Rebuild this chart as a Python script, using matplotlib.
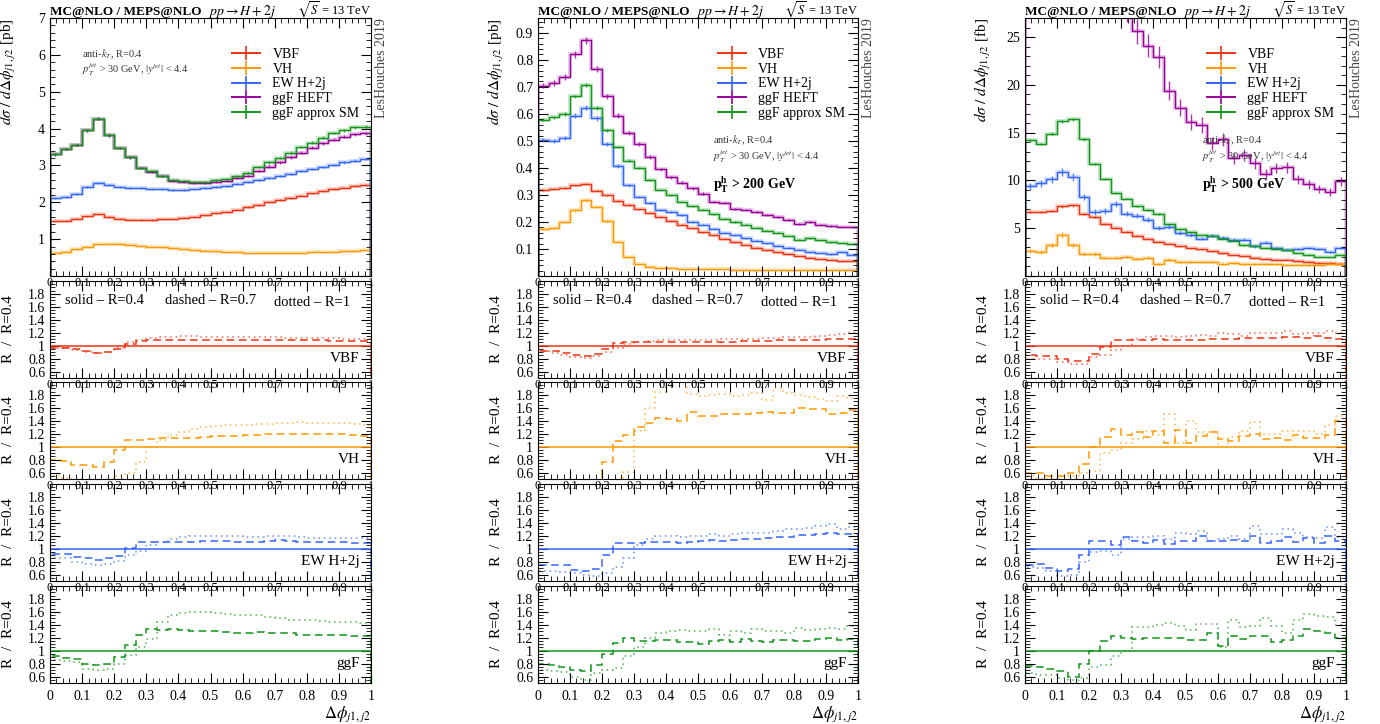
import matplotlib
matplotlib.use("Agg")
import matplotlib.pyplot as plt
from matplotlib.lines import Line2D
from matplotlib.ticker import MultipleLocator, FuncFormatter
import numpy as np

plt.rcParams['font.family'] = ['Liberation Serif', 'DejaVu Serif']
plt.rcParams['mathtext.fontset'] = 'stix'

# 30 bins in delta phi from 0 to 1
edges = np.linspace(0, 1, 31)

names = ['VBF', 'VH', 'EW H+2j', 'ggF HEFT', 'ggF approx SM']
colors = ['#EE3311', '#FF9900', '#3366FF', '#990099', '#109618']

# ---- top panels: dsigma/dDphi ----
# column 1: inclusive [pb]
c1_vbf = [1.48, 1.50, 1.55, 1.62, 1.67, 1.60, 1.56, 1.53, 1.52, 1.52, 1.54, 1.56, 1.58, 1.61, 1.65,
          1.70, 1.75, 1.80, 1.87, 1.93, 2.00, 2.06, 2.12, 2.18, 2.24, 2.30, 2.36, 2.40, 2.44, 2.47]
c1_vh = [0.62, 0.66, 0.72, 0.80, 0.87, 0.88, 0.86, 0.84, 0.82, 0.80, 0.78, 0.76, 0.73, 0.71, 0.69,
         0.67, 0.65, 0.64, 0.63, 0.62, 0.62, 0.62, 0.62, 0.63, 0.64, 0.65, 0.66, 0.67, 0.69, 0.70]
c1_ew = [2.12, 2.15, 2.22, 2.42, 2.52, 2.47, 2.42, 2.38, 2.38, 2.37, 2.35, 2.34, 2.34, 2.35, 2.38,
         2.41, 2.45, 2.50, 2.55, 2.60, 2.65, 2.70, 2.78, 2.85, 2.90, 2.95, 3.02, 3.08, 3.13, 3.18]
c1_heft = [3.30, 3.45, 3.55, 3.95, 4.27, 3.82, 3.47, 3.22, 2.93, 2.83, 2.70, 2.58, 2.54, 2.53, 2.53,
           2.55, 2.57, 2.65, 2.70, 2.85, 2.97, 3.08, 3.22, 3.35, 3.48, 3.60, 3.70, 3.78, 3.85, 3.87]
c1_sm = [3.30, 3.45, 3.55, 3.95, 4.27, 3.82, 3.47, 3.22, 2.93, 2.85, 2.72, 2.60, 2.57, 2.56, 2.56,
         2.60, 2.62, 2.72, 2.80, 2.95, 3.08, 3.20, 3.35, 3.50, 3.62, 3.75, 3.88, 3.95, 4.03, 4.05]

# column 2: pT^h > 200 GeV [pb]
c2_vbf = [0.318, 0.322, 0.327, 0.335, 0.340, 0.316, 0.298, 0.278, 0.263, 0.247, 0.235, 0.220, 0.205, 0.190, 0.177,
          0.162, 0.150, 0.138, 0.125, 0.115, 0.105, 0.095, 0.087, 0.080, 0.073, 0.068, 0.063, 0.060, 0.057, 0.056]
c2_vh = [0.173, 0.178, 0.200, 0.243, 0.280, 0.255, 0.205, 0.127, 0.072, 0.045, 0.035, 0.030, 0.028, 0.027, 0.026,
         0.026, 0.025, 0.025, 0.024, 0.024, 0.023, 0.023, 0.023, 0.022, 0.022, 0.022, 0.022, 0.021, 0.021, 0.021]
c2_ew = [0.505, 0.500, 0.510, 0.593, 0.622, 0.583, 0.490, 0.407, 0.335, 0.292, 0.270, 0.243, 0.238, 0.225, 0.200,
         0.190, 0.175, 0.160, 0.150, 0.140, 0.130, 0.122, 0.112, 0.105, 0.097, 0.088, 0.085, 0.080, 0.087, 0.078]
c2_heft = [0.705, 0.715, 0.735, 0.820, 0.872, 0.765, 0.665, 0.593, 0.528, 0.487, 0.440, 0.395, 0.365, 0.345, 0.325,
           0.305, 0.275, 0.270, 0.248, 0.243, 0.238, 0.227, 0.217, 0.207, 0.193, 0.200, 0.190, 0.185, 0.183, 0.180]
c2_sm = [0.578, 0.588, 0.600, 0.665, 0.708, 0.622, 0.540, 0.478, 0.427, 0.400, 0.355, 0.320, 0.298, 0.275, 0.258,
         0.245, 0.228, 0.212, 0.200, 0.190, 0.178, 0.168, 0.160, 0.148, 0.135, 0.140, 0.132, 0.125, 0.122, 0.120]

# column 3: pT^h > 500 GeV [fb]
c3_vbf = [6.7, 6.7, 6.8, 7.3, 7.4, 6.5, 6.2, 5.4, 5.0, 4.6, 4.2, 3.9, 3.6, 3.4, 3.1,
          2.9, 2.8, 2.6, 2.4, 2.2, 2.1, 1.9, 1.8, 1.7, 1.7, 1.6, 1.5, 1.4, 1.4, 1.3]
c3_vh = [2.6, 2.5, 3.2, 4.3, 3.2, 2.3, 2.3, 1.9, 1.9, 2.0, 1.8, 1.9, 1.3, 1.7, 1.5,
         1.5, 1.5, 1.5, 1.3, 1.4, 1.3, 1.3, 1.3, 1.3, 1.2, 1.2, 1.2, 1.2, 1.3, 1.3]
c3_ew = [9.4, 9.7, 10.1, 10.9, 10.4, 8.3, 6.7, 6.8, 7.5, 6.5, 6.3, 5.9, 5.0, 5.1, 4.5,
         4.3, 3.9, 4.2, 4.0, 3.8, 3.8, 3.1, 3.5, 2.9, 2.7, 2.8, 2.9, 2.8, 2.5, 2.9]
c3_heft = [45.0, 44.0, 43.0, 42.0, 40.0, 38.0, 35.0, 32.0, 30.0, 28.0, 25.6, 24.1, 22.9, 19.4, 17.6,
           16.1, 15.8, 13.9, 14.3, 12.3, 12.7, 11.8, 10.7, 11.3, 11.4, 10.1, 9.6, 9.1, 8.8, 9.9]
c3_sm = [14.2, 13.8, 14.9, 16.2, 16.4, 14.3, 11.7, 10.2, 8.7, 8.1, 7.3, 6.9, 6.5, 5.4, 4.9,
         4.6, 4.3, 4.2, 3.9, 3.7, 3.2, 3.1, 2.9, 2.8, 2.7, 2.4, 2.2, 2.0, 2.0, 2.2]

# rough relative MC uncertainty of each sample, per column
c1_relerr = [0.01, 0.01, 0.01, 0.01, 0.01]
c2_relerr = [0.01, 0.02, 0.015, 0.015, 0.01]
c3_relerr = [0.02, 0.08, 0.04, 0.05, 0.01]

# ---- ratio panels: R=0.7 (dashed) and R=1 (dotted) over R=0.4 ----
c1_vbf_r07 = [0.96, 0.96, 0.95, 0.91, 0.89, 0.90, 0.95, 1.02, 1.07, 1.08, 1.09, 1.09, 1.09, 1.09, 1.08,
              1.08, 1.08, 1.08, 1.08, 1.08, 1.08, 1.08, 1.08, 1.08, 1.08, 1.08, 1.07, 1.07, 1.07, 1.07]
c1_vbf_r10 = [0.96, 0.96, 0.94, 0.90, 0.88, 0.90, 0.97, 1.05, 1.09, 1.12, 1.13, 1.14, 1.15, 1.15, 1.14,
              1.14, 1.13, 1.13, 1.13, 1.13, 1.13, 1.13, 1.12, 1.12, 1.12, 1.12, 1.12, 1.11, 1.11, 1.11]
c1_vh_r07 = [0.80, 0.78, 0.72, 0.71, 0.69, 0.76, 0.95, 1.10, 1.11, 1.12, 1.13, 1.13, 1.14, 1.14, 1.15,
             1.16, 1.17, 1.17, 1.18, 1.18, 1.19, 1.20, 1.20, 1.20, 1.20, 1.20, 1.20, 1.19, 1.18, 1.17]
c1_vh_r10 = [0.55, 0.52, 0.50, 0.48, 0.46, 0.50, 0.55, 0.60, 0.77, 1.00, 1.10, 1.18, 1.23, 1.27, 1.30,
             1.32, 1.33, 1.33, 1.34, 1.35, 1.35, 1.36, 1.37, 1.38, 1.37, 1.37, 1.36, 1.36, 1.35, 1.34]
c1_ew_r07 = [0.92, 0.91, 0.87, 0.85, 0.83, 0.85, 0.89, 1.01, 1.10, 1.10, 1.11, 1.11, 1.11, 1.11, 1.12,
             1.12, 1.12, 1.11, 1.11, 1.11, 1.12, 1.13, 1.12, 1.11, 1.11, 1.10, 1.10, 1.10, 1.09, 1.09]
c1_ew_r10 = [0.86, 0.85, 0.80, 0.77, 0.74, 0.77, 0.81, 0.90, 0.96, 1.05, 1.10, 1.15, 1.18, 1.19, 1.19,
             1.20, 1.20, 1.19, 1.18, 1.18, 1.19, 1.20, 1.19, 1.18, 1.17, 1.17, 1.17, 1.17, 1.16, 1.16]
c1_ggf_r07 = [0.92, 0.89, 0.87, 0.80, 0.78, 0.80, 0.90, 1.08, 1.25, 1.33, 1.32, 1.33, 1.32, 1.31, 1.30,
              1.30, 1.29, 1.28, 1.27, 1.29, 1.27, 1.28, 1.28, 1.25, 1.25, 1.25, 1.24, 1.24, 1.23, 1.22]
c1_ggf_r10 = [0.85, 0.84, 0.83, 0.72, 0.70, 0.72, 0.80, 0.93, 1.05, 1.18, 1.45, 1.55, 1.58, 1.60, 1.60,
              1.59, 1.57, 1.55, 1.55, 1.55, 1.52, 1.50, 1.48, 1.47, 1.47, 1.46, 1.45, 1.45, 1.44, 1.43]

c2_vbf_r07 = [0.92, 0.91, 0.88, 0.86, 0.84, 0.87, 0.95, 1.04, 1.05, 1.05, 1.05, 1.05, 1.05, 1.05, 1.05,
              1.06, 1.06, 1.06, 1.06, 1.07, 1.07, 1.07, 1.08, 1.08, 1.08, 1.09, 1.09, 1.10, 1.10, 1.11]
c2_vbf_r10 = [0.91, 0.89, 0.86, 0.83, 0.81, 0.84, 0.90, 0.97, 1.03, 1.05, 1.07, 1.08, 1.08, 1.08, 1.09,
              1.09, 1.09, 1.10, 1.10, 1.10, 1.11, 1.12, 1.12, 1.13, 1.14, 1.14, 1.15, 1.16, 1.18, 1.19]
c2_vh_r07 = [0.30, 0.30, 0.30, 0.30, 0.30, 0.30, 0.76, 1.08, 1.18, 1.30, 1.37, 1.44, 1.43, 1.40, 1.53,
             1.47, 1.47, 1.51, 1.50, 1.50, 1.52, 1.53, 1.52, 1.52, 1.60, 1.59, 1.58, 1.51, 1.52, 1.56]
c2_vh_r10 = [0.30, 0.30, 0.30, 0.30, 0.30, 0.30, 0.30, 0.30, 0.61, 1.25, 1.60, 1.85, 2.05, 2.05, 1.82,
             1.78, 1.80, 1.82, 1.78, 1.80, 1.83, 1.72, 1.90, 1.83, 1.80, 1.77, 1.73, 1.70, 1.78, 1.75]
c2_ew_r07 = [0.75, 0.75, 0.75, 0.67, 0.65, 0.69, 0.90, 1.08, 1.08, 1.08, 1.10, 1.10, 1.10, 1.09, 1.10,
             1.12, 1.13, 1.12, 1.13, 1.15, 1.15, 1.17, 1.18, 1.18, 1.21, 1.21, 1.22, 1.25, 1.23, 1.22]
c2_ew_r10 = [0.65, 0.65, 0.64, 0.63, 0.60, 0.58, 0.62, 0.72, 0.85, 1.05, 1.15, 1.20, 1.20, 1.18, 1.20,
             1.20, 1.22, 1.20, 1.22, 1.25, 1.25, 1.25, 1.27, 1.30, 1.30, 1.32, 1.35, 1.38, 1.30, 1.33]
c2_ggf_r07 = [0.80, 0.78, 0.75, 0.70, 0.69, 0.78, 0.95, 1.12, 1.20, 1.15, 1.15, 1.17, 1.16, 1.14, 1.13,
              1.10, 1.15, 1.17, 1.13, 1.18, 1.15, 1.14, 1.17, 1.16, 1.15, 1.15, 1.18, 1.20, 1.16, 1.18]
c2_ggf_r10 = [0.70, 0.68, 0.67, 0.60, 0.55, 0.65, 0.70, 0.73, 0.92, 1.05, 1.20, 1.28, 1.30, 1.32, 1.30,
              1.30, 1.33, 1.25, 1.30, 1.28, 1.33, 1.30, 1.30, 1.28, 1.35, 1.32, 1.33, 1.35, 1.33, 1.38]

c3_vbf_r07 = [0.86, 0.84, 0.84, 0.79, 0.77, 0.77, 0.87, 0.98, 1.08, 1.08, 1.08, 1.08, 1.10, 1.09, 1.09,
              1.09, 1.09, 1.10, 1.10, 1.10, 1.12, 1.12, 1.12, 1.12, 1.13, 1.13, 1.12, 1.15, 1.12, 1.11]
c3_vbf_r10 = [0.80, 0.80, 0.80, 0.74, 0.72, 0.72, 0.82, 0.85, 0.93, 1.00, 1.10, 1.13, 1.15, 1.15, 1.14,
              1.15, 1.16, 1.15, 1.20, 1.18, 1.15, 1.20, 1.20, 1.20, 1.22, 1.18, 1.20, 1.20, 1.23, 1.20]
c3_vh_r07 = [0.60, 0.60, 0.55, 0.55, 0.60, 0.73, 1.00, 1.15, 1.27, 1.18, 1.23, 1.15, 1.24, 1.05, 1.26,
             1.05, 1.17, 1.23, 1.12, 1.08, 1.16, 1.20, 1.12, 1.13, 1.11, 1.18, 1.14, 1.13, 1.18, 1.40]
c3_vh_r10 = [0.55, 0.50, 0.50, 0.48, 0.55, 0.60, 0.62, 0.90, 0.95, 1.05, 1.12, 1.25, 1.18, 1.50, 1.05,
             1.40, 1.22, 1.22, 1.00, 1.15, 1.25, 1.38, 1.20, 1.20, 1.25, 1.25, 1.24, 1.20, 1.33, 1.47]
c3_ew_r07 = [0.75, 0.77, 0.70, 0.65, 0.68, 0.90, 1.12, 1.12, 1.06, 1.18, 1.12, 1.08, 1.14, 1.07, 1.12,
             1.12, 1.20, 1.12, 1.12, 1.14, 1.12, 1.20, 1.08, 1.12, 1.18, 1.10, 1.16, 1.08, 1.20, 1.12]
c3_ew_r10 = [0.72, 0.70, 0.65, 0.58, 0.60, 0.80, 0.95, 0.96, 0.90, 1.15, 1.18, 1.18, 1.20, 1.15, 1.25,
             1.22, 1.27, 1.12, 1.15, 1.20, 1.15, 1.35, 1.22, 1.22, 1.30, 1.25, 1.18, 1.17, 1.33, 1.18]
c3_ggf_r07 = [0.77, 0.75, 0.72, 0.68, 0.60, 0.80, 1.00, 1.15, 1.23, 1.20, 1.18, 1.19, 1.19, 1.19, 1.19,
              1.17, 1.17, 1.27, 1.07, 1.22, 1.18, 1.23, 1.23, 1.13, 1.17, 1.23, 1.33, 1.30, 1.28, 1.20]
c3_ggf_r10 = [0.65, 0.63, 0.63, 0.58, 0.55, 0.58, 0.75, 0.78, 0.92, 1.00, 1.37, 1.36, 1.40, 1.43, 1.38,
              1.32, 1.42, 1.42, 1.05, 1.47, 1.37, 1.38, 1.50, 1.38, 1.27, 1.48, 1.57, 1.53, 1.52, 1.40]

columns = [
    dict(top=[c1_vbf, c1_vh, c1_ew, c1_heft, c1_sm], relerr=c1_relerr, ylim=(0, 7), ymaj=1, ymin=0.2,
         unit='pb', cut=None, left=50, width=321, notes=(0.1, 0.86), legend=(0.55, 0.905),
         ratios=[(c1_vbf_r07, c1_vbf_r10), (c1_vh_r07, c1_vh_r10), (c1_ew_r07, c1_ew_r10), (c1_ggf_r07, c1_ggf_r10)]),
    dict(top=[c2_vbf, c2_vh, c2_ew, c2_heft, c2_sm], relerr=c2_relerr, ylim=(0, 0.955), ymaj=0.1, ymin=0.02,
         unit='pb', cut='200', left=538, width=320, notes=(0.547, 0.525), legend=(0.545, 0.905),
         ratios=[(c2_vbf_r07, c2_vbf_r10), (c2_vh_r07, c2_vh_r10), (c2_ew_r07, c2_ew_r10), (c2_ggf_r07, c2_ggf_r10)]),
    dict(top=[c3_vbf, c3_vh, c3_ew, c3_heft, c3_sm], relerr=c3_relerr, ylim=(0, 27), ymaj=5, ymin=1,
         unit='fb', cut='500', left=1025, width=321, notes=(0.551, 0.525), legend=(0.55, 0.905),
         ratios=[(c3_vbf_r07, c3_vbf_r10), (c3_vh_r07, c3_vh_r10), (c3_ew_r07, c3_ew_r10), (c3_ggf_r07, c3_ggf_r10)]),
]
ratio_names = ['VBF', 'VH', 'EW H+2j', 'ggF']
ratio_colors = [colors[0], colors[1], colors[2], colors[4]]

W, H = 1380, 724
fig = plt.figure(figsize=(13.8, 7.24), dpi=100)

# vertical extents in pixels (top, bottom)
rows_px = [(18, 276), (281, 378), (382, 479), (484, 581), (586, 683)]
xfmt = FuncFormatter(lambda v, p: '%g' % round(v, 3))
tick_kw = dict(direction='in', top=True, right=True, which='both')
centres = 0.5 * (edges[:-1] + edges[1:])


def style_x(ax, bottom):
    ax.set_xlim(0, 1)
    ax.xaxis.set_major_locator(MultipleLocator(0.1))
    ax.xaxis.set_minor_locator(MultipleLocator(0.02))
    ax.xaxis.set_major_formatter(xfmt)
    ax.tick_params(**tick_kw)
    ax.tick_params(which='major', length=7, width=0.8)
    ax.tick_params(which='minor', length=3.5, width=0.6)
    if bottom:
        ax.tick_params(axis='x', labelsize=10, pad=5)
    else:
        ax.tick_params(axis='x', labelsize=9, pad=1)
        ax.set_xticks(np.arange(0, 1.01, 0.1))
        ax.set_xticklabels(['' if abs(v - 0.6) < 1e-6 or abs(v - 0.8) < 1e-6 else '%g' % round(v, 3)
                            for v in np.arange(0, 1.01, 0.1)])


for col in columns:
    lpx, wpx = col['left'], col['width']
    axes = []
    for k, (t, b) in enumerate(rows_px):
        ax = fig.add_axes([lpx / W, 1 - b / H, wpx / W, (b - t) / H])
        ax.patch.set_alpha(0)
        axes.append(ax)

    # ---- main panel ----
    ax = axes[0]
    for vals, c, rel in zip(col['top'], colors, col['relerr']):
        vals = np.array(vals)
        ax.stairs(vals, edges, color=c, lw=2.6, alpha=0.25)
        ax.stairs(vals, edges, color=c, lw=1.0)
        ax.errorbar(centres, vals, yerr=vals * rel, fmt='none', ecolor=c, elinewidth=1.0, alpha=0.8)
    ax.set_ylim(*col['ylim'])
    ax.yaxis.set_major_locator(MultipleLocator(col['ymaj']))
    ax.yaxis.set_minor_locator(MultipleLocator(col['ymin']))
    ax.yaxis.set_major_formatter(FuncFormatter(lambda v, p: '' if v == 0 else '%g' % round(v, 3)))
    style_x(ax, False)
    ax.tick_params(axis='y', labelsize=10)
    ax.set_ylabel(r'$d\sigma\ /\ d\Delta\phi_{j1,j2}$ [' + col['unit'] + ']', loc='top', fontsize=11)
    ax.yaxis.set_label_coords(-0.1, 1.0)

    # header line, baseline a few pixels above the frame
    ty = 1 + 3.5 / 258
    ax.text(0, ty, 'MC@NLO / MEPS@NLO', transform=ax.transAxes, fontsize=9.5,
            fontweight='bold', ha='left', va='baseline')
    ax.text(0.6, ty, r'$pp \rightarrow H + 2j$', transform=ax.transAxes, fontsize=10,
            ha='center', va='baseline')
    ax.text(1, ty, r'$\sqrt{S}$ = 13 TeV', transform=ax.transAxes, fontsize=9,
            ha='right', va='baseline')
    ax.text(1.012, 1.0, 'LesHouches 2019', transform=ax.transAxes, fontsize=10,
            rotation=90, ha='left', va='top', color='#444444')

    nx, ny = col['notes']
    ax.text(nx, ny, r'anti-$k_T$, R=0.4', transform=ax.transAxes, fontsize=7.5, color='#333333',
            va='center')
    ax.text(nx, ny - 0.062, r'$p_T^{jet}$ > 30 GeV, $|y^{jet}|$ < 4.4', transform=ax.transAxes,
            fontsize=7.5, color='#333333', va='center')
    if col['cut']:
        ax.text(nx, ny - 0.172, r'$\mathbf{p_T^h}$ > ' + col['cut'] + ' GeV', transform=ax.transAxes,
                fontsize=10, fontweight='bold', va='center')

    handles = [Line2D([], [], color=c, lw=1.4, marker='|', markersize=10, markeredgewidth=1.2)
               for c in colors]
    ax.legend(handles, names, loc='upper left', bbox_to_anchor=col['legend'], frameon=False,
              fontsize=10, handlelength=2.0, labelspacing=0.12, handletextpad=0.9,
              borderaxespad=0)

    # ---- ratio panels ----
    for k, ((r07, r10), nm, c) in enumerate(zip(col['ratios'], ratio_names, ratio_colors)):
        ax = axes[k + 1]
        ax.axhline(1.0, color=c, lw=1.1)
        ax.stairs(np.array(r07), edges, color=c, lw=1.1, linestyle=(0, (5, 3)))
        ax.stairs(np.array(r10), edges, color=c, lw=1.1, linestyle=(0, (1, 2.5)), alpha=0.75)
        ax.set_ylim(0.5, 2.0)
        ax.yaxis.set_major_locator(MultipleLocator(0.2))
        ax.yaxis.set_minor_locator(MultipleLocator(0.05))
        ax.yaxis.set_major_formatter(FuncFormatter(lambda v, p: '%g' % round(v, 3)))
        ax.set_yticks([0.6, 0.8, 1.0, 1.2, 1.4, 1.6, 1.8])
        bottom = (k == 3)
        style_x(ax, bottom)
        ax.tick_params(axis='y', labelsize=10)
        ax.set_ylabel('R  /  R=0.4', fontsize=11)
        ax.yaxis.set_label_coords(-0.11, 0.5)
        ax.text(0.965, 0.2, nm, transform=ax.transAxes, ha='right', va='center', fontsize=11)
        if k == 0:
            ax.text(0.047, 0.8, 'solid – R=0.4', transform=ax.transAxes, fontsize=10.5, va='center')
            ax.text(0.5, 0.8, 'dashed – R=0.7', transform=ax.transAxes, fontsize=10.5,
                    va='center', ha='center')
            ax.text(0.935, 0.78, 'dotted – R=1', transform=ax.transAxes, fontsize=10.5,
                    va='center', ha='right')
        if bottom:
            ax.set_xlabel(r'$\Delta\phi_{j1,j2}$', loc='right', fontsize=12, labelpad=1)

fig.savefig('out.png', dpi=100)
